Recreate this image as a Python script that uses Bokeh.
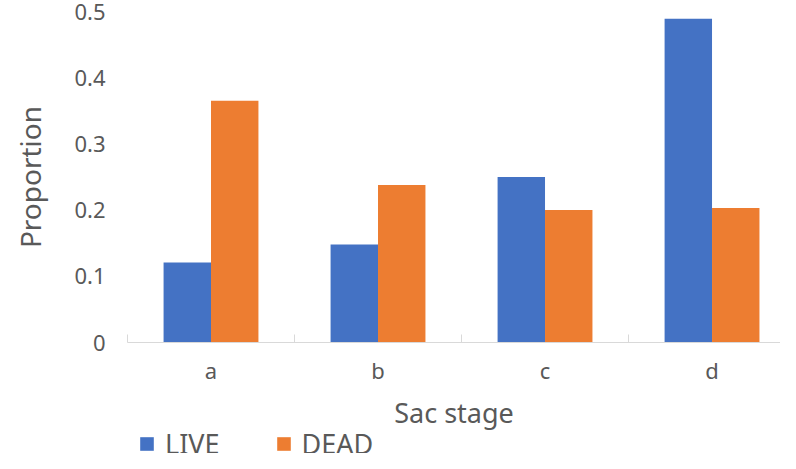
import numpy as np
from bokeh.plotting import figure
from bokeh.layouts import column
from bokeh.models import Range1d, FixedTicker, ColumnDataSource, Legend, LegendItem
from bokeh.transform import dodge
from bokeh.embed import file_html
from bokeh.resources import INLINE

categories = ["a", "b", "c", "d"]
live = [0.121, 0.148, 0.250, 0.489]
dead = [0.365, 0.238, 0.200, 0.203]
y_ticks = [0, 0.1, 0.2, 0.3, 0.4, 0.5]
y_labels = ["0", "0.1", "0.2", "0.3", "0.4", "0.5"]
series_names = ["LIVE", "DEAD"]
colors = ["#4472C4", "#ED7D31"]

FONT = "Noto Sans"
TXT = "#595959"

pos = np.arange(len(categories)) + 0.5
src = ColumnDataSource(dict(x=pos, live=live, dead=dead))

p = figure(width=780, height=434, output_backend="svg", toolbar_location=None,
           x_range=Range1d(0, len(categories) - 0.09), y_range=Range1d(0, 0.5),
           min_border_left=127, min_border_top=11, min_border_right=0,
           min_border_bottom=92)
p.outline_line_color = None
p.xgrid.visible = False
p.ygrid.visible = False

bw = 0.284
r1 = p.vbar(x=dodge("x", -bw / 2, range=p.x_range), top="live", width=bw, bottom=0,
            source=src, fill_color=colors[0], line_color=None)
r2 = p.vbar(x=dodge("x", bw / 2, range=p.x_range), top="dead", width=bw, bottom=0,
            source=src, fill_color=colors[1], line_color=None)

# x axis
xa = p.xaxis[0]
xa.ticker = FixedTicker(ticks=list(pos), minor_ticks=list(range(len(categories) + 1)))
xa.major_label_overrides = {float(x): c for x, c in zip(pos, categories)}
xa.major_tick_in = 0
xa.major_tick_out = 0
xa.minor_tick_in = 8
xa.minor_tick_out = 0
xa.minor_tick_line_color = "#D9D9D9"
xa.axis_line_color = "#D9D9D9"
xa.major_label_text_font = FONT
xa.major_label_text_font_size = "22px"
xa.major_label_text_color = TXT
xa.major_label_standoff = 12
xa.axis_label = "Sac stage"
xa.axis_label_text_font = FONT
xa.axis_label_text_font_size = "27px"
xa.axis_label_text_font_style = "normal"
xa.axis_label_text_color = TXT
xa.axis_label_standoff = 6

# y axis
ya = p.yaxis[0]
ya.ticker = FixedTicker(ticks=y_ticks)
ya.major_label_overrides = {float(t): l for t, l in zip(y_ticks, y_labels)}
ya.axis_line_color = None
ya.major_tick_line_color = None
ya.minor_tick_line_color = None
ya.major_tick_in = 0
ya.major_tick_out = 0
ya.major_label_text_font = FONT
ya.major_label_text_font_size = "22px"
ya.major_label_text_color = TXT
ya.major_label_standoff = 22
ya.axis_label = "Proportion"
ya.axis_label_text_font = FONT
ya.axis_label_text_font_size = "28px"
ya.axis_label_text_font_style = "normal"
ya.axis_label_text_color = TXT
ya.axis_label_standoff = 22

# legend strip below the chart (its bars lie outside its own y range, so only the key shows)
p2 = figure(width=780, height=19, output_backend="svg", toolbar_location=None,
            x_range=p.x_range, y_range=Range1d(1, 2),
            x_axis_location=None, y_axis_location=None,
            min_border_left=0, min_border_right=0, min_border_top=0, min_border_bottom=0)
p2.outline_line_color = None
p2.grid.visible = False
k1 = p2.vbar(x=dodge("x", -bw / 2, range=p2.x_range), top="live", width=bw, bottom=0,
             source=src, fill_color=colors[0], line_color=None)
k2 = p2.vbar(x=dodge("x", bw / 2, range=p2.x_range), top="dead", width=bw, bottom=0,
             source=src, fill_color=colors[1], line_color=None)

legend = Legend(items=[LegendItem(label=series_names[0], renderers=[k1]),
                       LegendItem(label=series_names[1], renderers=[k2])],
                orientation="horizontal", location=(11, -9),
                glyph_width=17, glyph_height=17, label_standoff=10, spacing=55,
                padding=0, margin=0, border_line_color=None,
                background_fill_alpha=0,
                label_text_font=FONT, label_text_font_size="27px",
                label_text_color=TXT)
p2.add_layout(legend, "center")

layout = column(p, p2, spacing=0)
open("out.html", "w").write(file_html(layout, INLINE))
